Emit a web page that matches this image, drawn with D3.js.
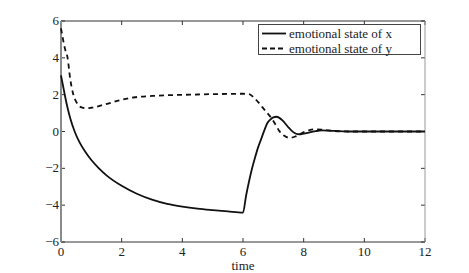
<!DOCTYPE html>
<html>
<head>
<meta charset="utf-8">
<script src="https://cdn.jsdelivr.net/npm/d3@7"></script>
<style>
  body { margin: 0; background: #fff; }
  text { font-family: "Liberation Serif", "Times New Roman", serif; fill: #222; }
</style>
</head>
<body>
<script>
// values
let xTicks = [0, 2, 4, 6, 8, 10, 12];
let yTicks = [-6, -4, -2, 0, 2, 4, 6];

let timeX = [0, 0.1, 0.2, 0.3, 0.45, 0.6, 0.8, 1.0, 1.25, 1.5, 2.0, 2.5, 3.0, 3.5, 4.0, 4.5, 5.0, 5.5, 6.0,
             6.1, 6.2, 6.3, 6.4, 6.5, 6.6, 6.7, 6.8, 6.9, 7.0, 7.1, 7.2, 7.3, 7.4, 7.5, 7.6, 7.7, 7.8, 7.9,
             8.0, 8.2, 8.4, 8.6, 8.8, 9.0, 9.5, 10, 11, 12];
let stateX = [3.05, 2.2, 1.4, 0.75, 0.0, -0.55, -1.1, -1.55, -2.0, -2.38, -2.95, -3.38, -3.7, -3.93, -4.08, -4.19, -4.27, -4.34, -4.4,
              -3.5, -2.7, -2.0, -1.4, -0.85, -0.4, 0.05, 0.45, 0.65, 0.77, 0.8, 0.74, 0.6, 0.42, 0.22, 0.05, -0.08, -0.14, -0.15,
              -0.12, -0.05, 0.02, 0.06, 0.05, 0.03, 0.0, 0, 0, 0];

let timeY = [0, 0.13, 0.22, 0.3, 0.41, 0.5, 0.57, 0.7, 0.85, 1.0, 1.45, 2.0, 2.44, 3.0, 3.5, 4.0, 4.5, 5.0, 5.5, 6.0,
             6.2, 6.35, 6.5, 6.65, 6.8, 6.95, 7.1, 7.2, 7.35, 7.5, 7.6, 7.75, 7.9, 8.05, 8.2, 8.4, 8.6, 8.8, 9.0, 9.5, 10, 11, 12];
let stateY = [5.6, 4.5, 3.97, 2.9, 1.98, 1.62, 1.44, 1.3, 1.26, 1.29, 1.47, 1.72, 1.86, 1.93, 1.97, 1.99, 2.01, 2.03, 2.04, 2.05,
              2.03, 1.85, 1.6, 1.3, 1.0, 0.7, 0.3, 0.02, -0.22, -0.33, -0.33, -0.25, -0.12, 0.0, 0.08, 0.12, 0.1, 0.06, 0.03, 0.0, 0, 0, 0];

let legendLabels = ["emotional state of x", "emotional state of y"];
let xLabel = "time";

let width = 469, height = 273;
let plotLeft = 61, plotRight = 425, plotTop = 21, plotBottom = 242;

let xScale = d3.scaleLinear().domain([0, 12]).range([plotLeft, plotRight]);
let yScale = d3.scaleLinear().domain([-6, 6]).range([plotBottom, plotTop]);

let svg = d3.select("body").append("svg")
  .attr("width", width)
  .attr("height", height);

// inward ticks on all four sides
let tickLen = 4;
let g = svg.append("g").attr("stroke", "#333").attr("stroke-width", 1);
xTicks.forEach(function(t) {
  g.append("line").attr("x1", xScale(t)).attr("x2", xScale(t)).attr("y1", plotBottom).attr("y2", plotBottom - tickLen);
  g.append("line").attr("x1", xScale(t)).attr("x2", xScale(t)).attr("y1", plotTop).attr("y2", plotTop + tickLen);
});
yTicks.forEach(function(t) {
  g.append("line").attr("x1", plotLeft).attr("x2", plotLeft + tickLen).attr("y1", yScale(t)).attr("y2", yScale(t));
  g.append("line").attr("x1", plotRight).attr("x2", plotRight - tickLen).attr("y1", yScale(t)).attr("y2", yScale(t));
});

// frame
svg.append("line").attr("x1", plotLeft).attr("x2", plotRight).attr("y1", plotTop).attr("y2", plotTop).attr("stroke", "#333");
svg.append("line").attr("x1", plotLeft).attr("x2", plotRight).attr("y1", plotBottom).attr("y2", plotBottom).attr("stroke", "#333");
svg.append("line").attr("x1", plotLeft).attr("x2", plotLeft).attr("y1", plotTop).attr("y2", plotBottom).attr("stroke", "#8a8a8a").attr("stroke-width", 2);
svg.append("line").attr("x1", plotRight).attr("x2", plotRight).attr("y1", plotTop).attr("y2", plotBottom).attr("stroke", "#999");

// tick labels
svg.append("g").selectAll("text").data(xTicks).enter().append("text")
  .attr("x", function(d) { return xScale(d); })
  .attr("y", plotBottom + 14)
  .attr("text-anchor", "middle")
  .attr("font-size", 13)
  .text(function(d) { return d; });

svg.append("g").selectAll("text").data(yTicks).enter().append("text")
  .attr("x", plotLeft - 2)
  .attr("y", function(d) { return yScale(d) + 4; })
  .attr("text-anchor", "end")
  .attr("font-size", 13)
  .text(function(d) { return d < 0 ? "\u2212" + Math.abs(d) : d; });

svg.append("text")
  .attr("x", xScale(6))
  .attr("y", 270)
  .attr("text-anchor", "middle")
  .attr("font-size", 13)
  .text(xLabel);

// curves
let line = d3.line()
  .x(function(d) { return xScale(d[0]); })
  .y(function(d) { return yScale(d[1]); })
  .curve(d3.curveMonotoneX);

svg.append("path")
  .attr("d", line(d3.zip(timeY, stateY)))
  .attr("fill", "none")
  .attr("stroke", "#111")
  .attr("stroke-width", 1.8)
  .attr("stroke-dasharray", "5,4");

svg.append("path")
  .attr("d", line(d3.zip(timeX, stateX)))
  .attr("fill", "none")
  .attr("stroke", "#111")
  .attr("stroke-width", 1.8);

// legend
let lg = svg.append("g");
lg.append("rect")
  .attr("x", 258.5).attr("y", 24.5).attr("width", 162).attr("height", 30)
  .attr("fill", "#fff").attr("stroke", "#444");
let dashes = [null, "5,3"];
legendLabels.forEach(function(lab, i) {
  let yy = 33.5 + i * 15;
  lg.append("line")
    .attr("x1", 262).attr("x2", 286).attr("y1", yy).attr("y2", yy)
    .attr("stroke", "#111").attr("stroke-width", 1.8)
    .attr("stroke-dasharray", dashes[i]);
  lg.append("text")
    .attr("x", 289).attr("y", yy + 4)
    .attr("font-size", 13)
    .text(lab);
});
</script>
</body>
</html>
